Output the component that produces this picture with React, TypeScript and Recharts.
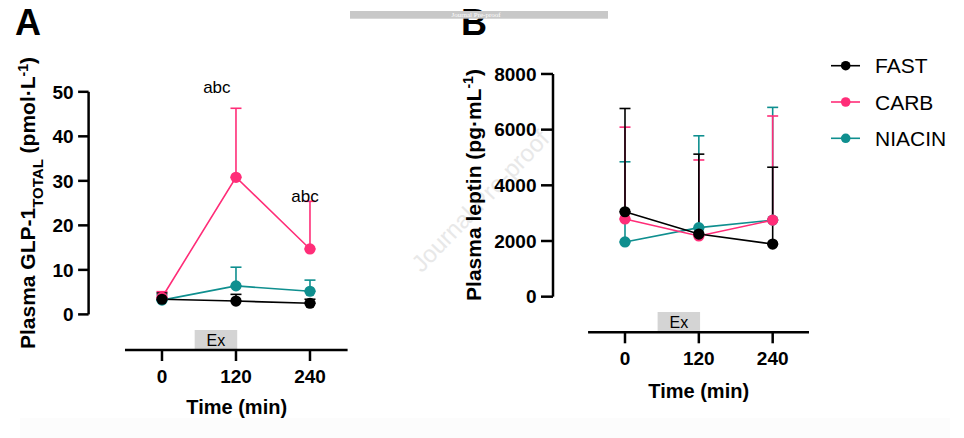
import React from 'react';
import {
  LineChart,
  Line,
  XAxis,
  YAxis,
  ErrorBar,
  ReferenceLine,
  ReferenceArea,
  ReferenceDot,
  Legend,
} from 'recharts';

// ---------- data ----------
const timePoints = [0, 120, 240];
const seriesNames = ['FAST', 'CARB', 'NIACIN'];
const seriesColors = ['#000000', '#ff2d78', '#0f8f8f'];

const glpFast = [3.4, 3.0, 2.5];
const glpFastErr = [1.4, 1.5, 0.9];
const glpCarb = [3.8, 30.8, 14.7];
const glpCarbErr = [1.3, 15.5, 10.7];
const glpNiacin = [3.2, 6.4, 5.2];
const glpNiacinErr = [1.2, 4.2, 2.5];

const leptinFast = [3050, 2250, 1890];
const leptinFastErr = [3710, 2870, 2760];
const leptinCarb = [2790, 2180, 2750];
const leptinCarbErr = [3300, 2730, 3740];
const leptinNiacin = [1965, 2480, 2750];
const leptinNiacinErr = [2880, 3300, 4050];

const glpTicks = [0, 10, 20, 30, 40, 50];
const leptinTicks = [0, 2000, 4000, 6000, 8000];
const timeTicks = [0, 120, 240];
const exWindow = [53, 122];
const exLabel = 'Ex';
const glpSigLabels = [
  { t: 89, y: 51.0, text: 'abc' },
  { t: 232, y: 26.5, text: 'abc' },
];

const FONT = '"Liberation Sans", Arial, Helvetica, sans-serif';

function buildRows(means: number[][], errs: number[][]) {
  return timePoints.map((t, i) => {
    const row: any = { t };
    seriesNames.forEach((n, k) => {
      row[n] = means[k][i];
      row[n + '_err'] = [0, errs[k][i]];
    });
    return row;
  });
}

const glpRows = buildRows([glpFast, glpCarb, glpNiacin], [glpFastErr, glpCarbErr, glpNiacinErr]);
const leptinRows = buildRows(
  [leptinFast, leptinCarb, leptinNiacin],
  [leptinFastErr, leptinCarbErr, leptinNiacinErr]
);

const drawOrder = [2, 1, 0]; // NIACIN under CARB under FAST

function LegendContent() {
  return (
    <svg width={140} height={110} style={{ overflow: 'visible', display: 'block' }}>
      {seriesNames.map((n, k) => {
        const cy = 18.7 + k * 36.3;
        return (
          <g key={n}>
            <line x1={0} x2={29} y1={cy} y2={cy} stroke={seriesColors[k]} strokeWidth={1.6} />
            <circle cx={14.7} cy={cy} r={4.8} fill={seriesColors[k]} />
            <text x={44} y={cy + 7.5} fontSize={21} fontFamily={FONT} fill="#000">
              {n}
            </text>
          </g>
        );
      })}
    </svg>
  );
}

type PanelProps = {
  rows: any[];
  width: number;
  margin: any;
  xDomain: number[];
  yDomain: number[];
  yTicks: number[];
  yTickSize: number;
  xTickMargin: number;
  exTop: number;
  xAxisRight: number;
  labels?: { t: number; y: number; text: string }[];
  legend?: boolean;
};

function Panel(p: PanelProps) {
  const tickStyle = { fill: '#000', fontSize: 19, fontWeight: 700, fontFamily: FONT };
  const yMin = p.yDomain[0];
  const yTop = p.yTicks[p.yTicks.length - 1];
  return (
    <LineChart width={p.width} height={438} data={p.rows} margin={p.margin}>
      <XAxis
        dataKey="t"
        type="number"
        domain={p.xDomain}
        ticks={timeTicks}
        interval={0}
        allowDataOverflow
        axisLine={false}
        stroke="#000"
        tickLine={{ stroke: '#000', strokeWidth: 2.5 }}
        tickSize={11}
        tickMargin={p.xTickMargin}
        tick={tickStyle}
        height={30}
      />
      <YAxis
        type="number"
        domain={p.yDomain}
        ticks={p.yTicks}
        interval={0}
        allowDataOverflow
        axisLine={false}
        stroke="#000"
        tickLine={{ stroke: '#000', strokeWidth: 2.5 }}
        tickSize={p.yTickSize}
        tickMargin={4.5}
        tick={tickStyle}
        width={60}
      />
      <ReferenceArea
        x1={exWindow[0]}
        x2={exWindow[1]}
        y1={p.exTop}
        y2={yMin}
        fill="#d4d4d4"
        fillOpacity={1}
        stroke="none"
        ifOverflow="visible"
        label={{ value: exLabel, position: 'center', fontSize: 16, fill: '#000', fontFamily: FONT }}
      />
      <ReferenceLine
        segment={[
          { x: p.xDomain[0], y: 0 },
          { x: p.xDomain[0], y: yTop },
        ]}
        stroke="#000"
        strokeWidth={2.5}
        ifOverflow="visible"
      />
      <ReferenceLine
        segment={[
          { x: -60, y: yMin },
          { x: p.xAxisRight, y: yMin },
        ]}
        stroke="#000"
        strokeWidth={2.5}
        ifOverflow="visible"
      />
      {drawOrder.map((k) => (
        <Line
          key={seriesNames[k]}
          dataKey={seriesNames[k]}
          name={seriesNames[k]}
          stroke={seriesColors[k]}
          strokeWidth={1.6}
          dot={{ r: 5.6, fill: seriesColors[k], stroke: seriesColors[k], strokeWidth: 0 }}
          activeDot={false}
          isAnimationActive={false}
          type="linear"
        >
          <ErrorBar
            dataKey={seriesNames[k] + '_err'}
            direction="y"
            width={5.5}
            stroke={seriesColors[k]}
            strokeWidth={1.6}
            isAnimationActive={false}
          />
        </Line>
      ))}
      {(p.labels || []).map((l, i) => (
        <ReferenceDot
          key={i}
          x={l.t}
          y={l.y}
          r={0}
          fill="none"
          stroke="none"
          ifOverflow="visible"
          label={{ value: l.text, position: 'center', fontSize: 17, fill: '#000', fontFamily: FONT }}
        />
      ))}
      {p.legend && (
        <Legend
          layout="vertical"
          align="center"
          verticalAlign="middle"
          content={() => <LegendContent />}
          wrapperStyle={{ left: 391, top: 47, width: 140, height: 110 }}
        />
      )}
    </LineChart>
  );
}

export default function App() {
  const txt = { fontFamily: FONT, fill: '#000' } as any;
  return (
    <div style={{ position: 'absolute', left: 0, top: 0, width: 964, height: 438, background: '#fff', overflow: 'hidden' }}>
      {/* underlay */}
      <svg width={964} height={438} style={{ position: 'absolute', left: 0, top: 0 }}>
        <rect x={20} y={418} width={930} height={20} fill="#fcfcfc" />
        <text
          x={0}
          y={0}
          transform="translate(480,201) rotate(-46)"
          textAnchor="middle"
          dominantBaseline="central"
          fontSize={24}
          fontFamily={FONT}
          fill="#e8e8e8"
        >
          Journal Pre-proof
        </text>
      </svg>
      <div style={{ position: 'absolute', left: 0, top: 0 }}>
        <Panel
          rows={glpRows}
          width={440}
          margin={{ top: 47.3, right: 92.4, bottom: 58, left: 28.6 }}
          xDomain={[-119, 301]}
          yDomain={[-8, 60]}
          yTicks={glpTicks}
          yTickSize={10.5}
          xTickMargin={9}
          exTop={-3.5}
          xAxisRight={301}
          labels={glpSigLabels}
        />
      </div>
      <div style={{ position: 'absolute', left: 440, top: 0 }}>
        <Panel
          rows={leptinRows}
          width={524}
          margin={{ top: 51.7, right: 154.4, bottom: 75.7, left: 53 }}
          xDomain={[-117, 300]}
          yDomain={[-1280, 8800]}
          yTicks={leptinTicks}
          yTickSize={12}
          xTickMargin={8.5}
          exTop={-550}
          xAxisRight={299}
          legend
        />
      </div>
      {/* overlay */}
      <svg width={964} height={438} style={{ position: 'absolute', left: 0, top: 0, pointerEvents: 'none' }}>
        <text x={15} y={35} fontSize={36} fontWeight={700} {...txt}>A</text>
        <text x={461} y={35} fontSize={36} fontWeight={700} {...txt}>B</text>
        <rect x={350} y={11} width={258} height={7.7} fill="#c8c8c8" />
        <text x={476} y={17.3} textAnchor="middle" fontSize={7} fontFamily="'Liberation Serif', serif" fill="#fff">
          Journal Pre-proof
        </text>

        <text transform="translate(35,203) rotate(-90)" textAnchor="middle" fontSize={21} fontWeight={700} {...txt}>
          Plasma GLP-1
          <tspan fontSize={15} dy={7.5}>TOTAL</tspan>
          <tspan dy={-7.5}> (pmol·L</tspan>
          <tspan fontSize={14} dy={-7}>-1</tspan>
          <tspan dy={7}>)</tspan>
        </text>
        <text transform="translate(480.5,185) rotate(-90)" textAnchor="middle" fontSize={21} fontWeight={700} {...txt}>
          Plasma leptin (pg·mL
          <tspan fontSize={14} dy={-7.5}>-1</tspan>
          <tspan dy={7.5}>)</tspan>
        </text>

        <text x={236.7} y={414.3} textAnchor="middle" fontSize={20} fontWeight={700} {...txt}>Time (min)</text>
        <text x={698.7} y={397.7} textAnchor="middle" fontSize={20} fontWeight={700} {...txt}>Time (min)</text>
      </svg>
    </div>
  );
}
